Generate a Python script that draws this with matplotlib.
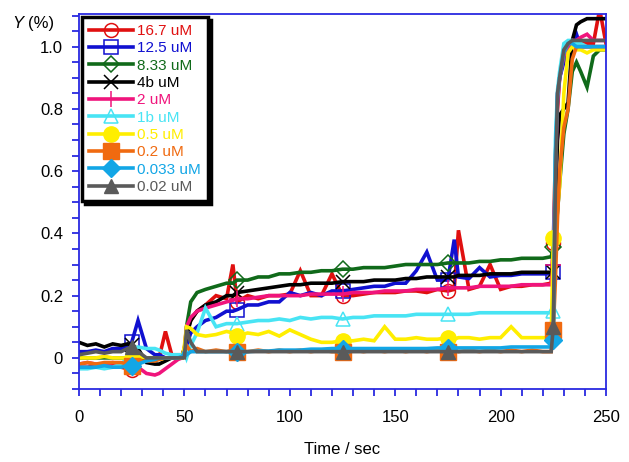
import matplotlib
matplotlib.use("Agg")
import matplotlib.pyplot as plt
from matplotlib.ticker import MultipleLocator

plt.rcParams['font.family'] = ['Liberation Sans', 'DejaVu Sans']

# ---- data -------------------------------------------------------------
time_s = [0, 4, 8, 12, 16, 20,
          23, 25, 28, 32, 36, 38,
          41, 44, 47, 49, 50, 51,
          53, 56, 60, 65, 70, 73,
          75, 80, 85, 90, 95, 100,
          105, 110, 115, 120, 125, 130,
          135, 140, 145, 150, 155, 160,
          165, 170, 175, 178, 180, 185,
          190, 195, 200, 205, 210, 215,
          220, 224, 225, 226, 227, 228,
          230, 232, 234, 236, 238, 241,
          244, 247, 250]

labels = ["16.7 uM", "12.5 uM", "8.33 uM", "4b uM", "2 uM",
          "1b uM", "0.5 uM", "0.2 uM", "0.033 uM", "0.02 uM"]

y_16_7 = [-0.03, -0.03, -0.025, -0.03, -0.025, -0.03,
          -0.035, -0.04, -0.02, -0.005, 0.0, 0.0,
          0.085, 0.01, 0.01, 0.01, 0.03, 0.08,
          0.12, 0.15, 0.17, 0.2, 0.19, 0.3,
          0.18, 0.2, 0.19, 0.2, 0.2, 0.205,
          0.28, 0.2, 0.2, 0.27, 0.2, 0.2,
          0.205, 0.21, 0.21, 0.21, 0.215, 0.215,
          0.21, 0.22, 0.215, 0.22, 0.41, 0.22,
          0.23, 0.3, 0.22, 0.23, 0.23, 0.235,
          0.235, 0.24, 0.37, 0.65, 0.8, 0.9,
          0.97, 1.0, 1.01, 1.01, 1.01, 1.01,
          1.01, 1.12, 1.01]

y_12_5 = [0.02, 0.02, 0.025, 0.02, 0.03, 0.03,
          0.04, 0.05, 0.12, 0.03, 0.01, 0.01,
          0.0, 0.0, 0.0, 0.0, 0.01, 0.04,
          0.08, 0.1, 0.12, 0.13, 0.15, 0.15,
          0.155, 0.17, 0.17, 0.18, 0.18, 0.21,
          0.2, 0.21, 0.2, 0.215, 0.215, 0.22,
          0.225, 0.23, 0.23, 0.24, 0.24, 0.28,
          0.34, 0.25, 0.25, 0.38, 0.26, 0.255,
          0.29, 0.26, 0.265, 0.265, 0.27, 0.27,
          0.27, 0.27, 0.275, 0.6, 0.85, 0.9,
          0.95, 1.0, 1.01, 1.04, 1.0, 1.0,
          1.0, 1.0, 1.0]

y_8_33 = [0.0, 0.0, 0.0, 0.0, 0.0, 0.0,
          0.0, 0.0, 0.0, 0.0, 0.0, 0.0,
          0.0, 0.0, 0.0, 0.0, 0.02, 0.1,
          0.18, 0.21, 0.22, 0.23, 0.24, 0.24,
          0.25, 0.25, 0.26, 0.26, 0.27, 0.27,
          0.275, 0.275, 0.28, 0.28, 0.285, 0.285,
          0.29, 0.29, 0.29, 0.295, 0.3, 0.3,
          0.3, 0.3, 0.305, 0.305, 0.305, 0.305,
          0.31, 0.31, 0.315, 0.315, 0.32, 0.32,
          0.32, 0.325, 0.355, 0.4, 0.47, 0.56,
          0.72, 0.8, 0.92, 0.95, 0.92, 0.87,
          0.97, 0.99, 0.99]

y_4b = [0.05, 0.04, 0.045, 0.035, 0.045, 0.04,
        0.045, 0.04, 0.03, -0.015, -0.02, -0.02,
        -0.01, 0.0, 0.005, 0.01, 0.03, 0.07,
        0.12, 0.15, 0.17, 0.18, 0.2, 0.2,
        0.21, 0.215, 0.22, 0.225, 0.23, 0.235,
        0.235, 0.24, 0.24, 0.24, 0.245, 0.245,
        0.245, 0.25, 0.25, 0.25, 0.255, 0.255,
        0.26, 0.26, 0.26, 0.26, 0.265, 0.265,
        0.265, 0.27, 0.27, 0.27, 0.275, 0.275,
        0.275, 0.275, 0.275, 0.5, 0.7, 0.78,
        0.8, 0.82, 1.02, 1.07, 1.08, 1.09,
        1.09, 1.09, 1.09]

y_2 = [-0.02, -0.015, -0.02, -0.02, -0.015, -0.02,
       -0.02, -0.025, -0.03, -0.05, -0.055, -0.05,
       -0.035, -0.02, -0.005, 0.0, 0.03, 0.1,
       0.13, 0.15, 0.16, 0.17, 0.18, 0.185,
       0.19, 0.19, 0.195, 0.2, 0.2, 0.2,
       0.2, 0.205, 0.205, 0.205, 0.205, 0.21,
       0.21, 0.21, 0.215, 0.215, 0.215, 0.22,
       0.22, 0.22, 0.225, 0.225, 0.225, 0.225,
       0.23, 0.23, 0.23, 0.23, 0.235, 0.235,
       0.235, 0.235, 0.3, 0.6, 0.82, 0.9,
       0.97, 1.0, 1.02, 1.02, 1.03, 1.04,
       1.02, 1.02, 1.02]

y_1b = [-0.035, -0.035, -0.03, -0.035, -0.03, -0.02,
        0.0, 0.02, 0.035, 0.03, 0.03, 0.025,
        0.015, 0.01, 0.01, 0.01, 0.02, 0.0,
        0.04, 0.08, 0.16, 0.1, 0.11, 0.11,
        0.11, 0.115, 0.12, 0.12, 0.125, 0.12,
        0.13, 0.125, 0.13, 0.13, 0.125, 0.13,
        0.13, 0.135, 0.135, 0.135, 0.135, 0.14,
        0.14, 0.14, 0.14, 0.14, 0.14, 0.14,
        0.145, 0.145, 0.145, 0.145, 0.145, 0.145,
        0.145, 0.145, 0.15, 0.7, 0.86, 0.92,
        1.01, 1.02, 1.02, 1.01, 1.01, 1.0,
        1.0, 1.0, 1.0]

y_0_5 = [0.0, 0.0, 0.0, 0.005, 0.0, 0.0,
         0.0, 0.0, 0.005, 0.0, 0.0, -0.005,
         0.0, 0.0, 0.0, 0.0, 0.04, 0.1,
         0.095, 0.075, 0.07, 0.075, 0.085, 0.08,
         0.07, 0.08, 0.075, 0.085, 0.07, 0.09,
         0.075, 0.06, 0.05, 0.05, 0.055, 0.055,
         0.06, 0.055, 0.1, 0.06, 0.06, 0.065,
         0.06, 0.06, 0.065, 0.06, 0.065, 0.065,
         0.06, 0.065, 0.065, 0.1, 0.065, 0.065,
         0.065, 0.065, 0.385, 0.42, 0.48, 0.55,
         0.85, 0.98, 1.0, 0.99, 0.99, 0.98,
         0.99, 0.99, 0.99]

y_0_2 = [-0.02, -0.015, -0.02, -0.015, -0.015, -0.015,
         -0.02, -0.025, -0.01, -0.01, -0.01, -0.005,
         0.0, 0.0, 0.0, 0.0, 0.02, 0.04,
         0.02, 0.03, 0.02, 0.025, 0.02, 0.025,
         0.02, 0.02, 0.025, 0.02, 0.025, 0.02,
         0.025, 0.02, 0.025, 0.02, 0.02, 0.025,
         0.02, 0.025, 0.02, 0.025, 0.02, 0.025,
         0.02, 0.025, 0.02, 0.025, 0.02, 0.025,
         0.02, 0.025, 0.02, 0.025, 0.02, 0.025,
         0.02, 0.02, 0.09, 0.25, 0.45, 0.6,
         0.74, 0.8, 0.96, 1.0, 1.0, 1.0,
         1.0, 1.0, 1.0]

y_0_033 = [-0.03, -0.03, -0.03, -0.025, -0.03, -0.03,
           -0.025, -0.025, -0.02, -0.01, -0.005, 0.0,
           0.0, 0.0, 0.0, 0.005, 0.02, 0.01,
           0.02, 0.02, 0.02, 0.02, 0.02, 0.02,
           0.02, 0.02, 0.022, 0.022, 0.025, 0.025,
           0.025, 0.028, 0.028, 0.03, 0.03, 0.03,
           0.03, 0.03, 0.03, 0.03, 0.03, 0.03,
           0.03, 0.032, 0.032, 0.032, 0.032, 0.032,
           0.032, 0.032, 0.032, 0.035, 0.035, 0.035,
           0.035, 0.035, 0.058, 0.65, 0.84, 0.9,
           0.98, 1.01, 1.01, 1.0, 1.0, 1.0,
           1.0, 1.0, 1.0]

y_0_02 = [0.01, 0.015, 0.02, 0.015, 0.02, 0.02,
          0.03, 0.035, 0.02, 0.0, 0.0, 0.0,
          0.0, 0.0, 0.0, 0.0, 0.0, 0.09,
          0.05, 0.02, 0.02, 0.02, 0.02, 0.02,
          0.02, 0.02, 0.02, 0.02, 0.02, 0.02,
          0.02, 0.02, 0.02, 0.02, 0.02, 0.02,
          0.02, 0.02, 0.02, 0.02, 0.02, 0.02,
          0.02, 0.02, 0.02, 0.02, 0.02, 0.02,
          0.02, 0.02, 0.02, 0.02, 0.02, 0.02,
          0.02, 0.02, 0.1, 0.55, 0.85, 0.9,
          0.99, 1.01, 1.02, 1.02, 1.02, 1.02,
          1.02, 1.02, 1.02]

marker_times = [25, 75, 125, 175, 225]

series = [y_16_7, y_12_5, y_8_33, y_4b, y_2, y_1b, y_0_5, y_0_2, y_0_033, y_0_02]

# ---- styles -----------------------------------------------------------
colors = ['#e01010', '#1010d0', '#106a1a', '#000000', '#f0147c',
          '#48e4f4', '#ffee00', '#f06a10', '#12a6e6', '#5a5a5a']
markers = ['o', 's', 'D', 'x', '+', '^', 'o', 's', 'D', '^']
filled = [False, False, False, False, False, False, True, True, True, True]
msizes = [10, 10, 8, 10, 12, 10, 11, 11, 9, 10]

spine_col = '#2a2ae0'

fig = plt.figure(figsize=(6.29, 4.62), dpi=100)
ax = fig.add_axes([79/629, 1-389/462, (606-79)/629, (389-14)/462])

mark_idx = [time_s.index(t) for t in marker_times]

for ys, lab, c, m, f, ms in zip(series, labels, colors, markers, filled, msizes):
    kw = dict(color=c, lw=2.6, marker=m, markevery=mark_idx, markersize=ms,
              label=lab, solid_joinstyle='miter')
    if f:
        kw.update(markerfacecolor=c, markeredgecolor=c, markeredgewidth=1)
    else:
        kw.update(markerfacecolor='none', markeredgecolor=c, markeredgewidth=1.1)
    ax.plot(time_s, ys, **kw)

ax.set_xlim(0, 250)
ax.set_ylim(-0.1, 1.105)
ax.xaxis.set_major_locator(MultipleLocator(50))
ax.xaxis.set_minor_locator(MultipleLocator(10))
ax.yaxis.set_major_locator(MultipleLocator(0.2))
ax.yaxis.set_minor_locator(MultipleLocator(0.05))
ax.set_yticks([0, 0.2, 0.4, 0.6, 0.8, 1.0])
ax.set_yticklabels(['0', '0.2', '0.4', '0.6', '0.8', '1.0'])

for s in ax.spines.values():
    s.set_color(spine_col)
    s.set_linewidth(1.3)

ax.tick_params(axis='both', which='both', direction='out', color=spine_col,
               width=1.3, length=5, labelsize=12, labelcolor='black')
ax.tick_params(axis='x', which='both', top=False, pad=10)
ax.tick_params(axis='y', which='both', right=False, pad=6.5)

ax.set_xlabel('Time / sec', fontsize=12, labelpad=12)

fig.text(12/629, 1-28/462, 'Y', fontsize=12, style='italic', va='baseline')
fig.text(28/629, 1-28/462, '(%)', fontsize=12, va='baseline')

leg = ax.legend(loc='upper left', bbox_to_anchor=(0.006, 0.992), borderaxespad=0,
                fontsize=11, labelcolor='linecolor', handlelength=2.9,
                handletextpad=0.25, labelspacing=0.22, borderpad=0.45,
                fancybox=False, framealpha=1, edgecolor='black',
                shadow={'color': 'black', 'alpha': 1.0})
leg.get_frame().set_linewidth(2.5)

fig.savefig('out.png', dpi=100)
